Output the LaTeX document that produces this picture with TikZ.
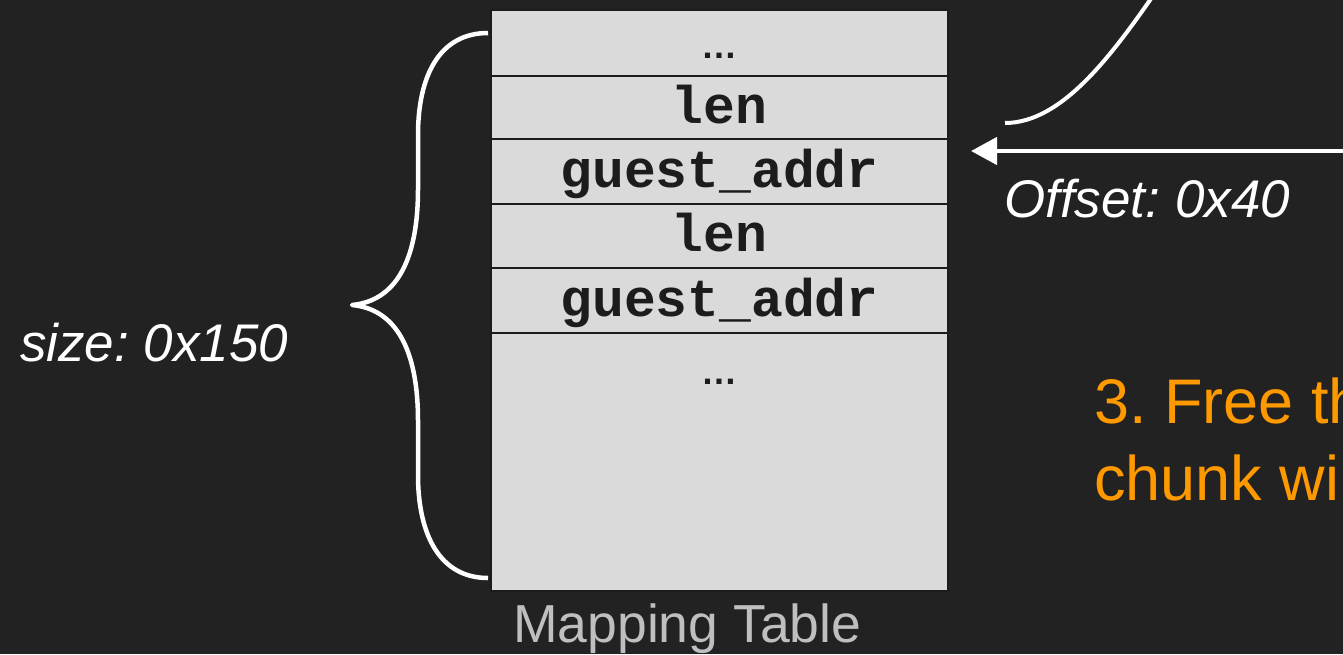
\documentclass[tikz,border=0pt]{standalone}
\usepackage{fontspec}
\setmainfont{Liberation Sans}
\newfontfamily\codefont{Liberation Mono}
\usetikzlibrary{positioning, arrows.meta}
\definecolor{fundo}{RGB}{34,34,34}
\definecolor{cinzacel}{RGB}{218,218,218}
\definecolor{tinta}{RGB}{28,28,28}
\definecolor{cinzarot}{RGB}{191,191,191}
\definecolor{laranja}{RGB}{255,153,0}
\frenchspacing

\begin{document}
\begin{tikzpicture}[
    x=1pt, y=-1pt,
    node distance=0pt,
    celula/.style={rectangle, draw=tinta, line width=2pt, fill=cinzacel,
                   minimum width=457pt, inner sep=0pt, outer sep=0pt, text=tinta,
                   font=\codefont\bfseries\fontsize{53}{60}\selectfont,
                   text height=31pt, text depth=0pt},
    pontos/.style={text=tinta, inner sep=0pt, font=\bfseries\fontsize{36}{40}\selectfont},
    rotulo/.style={text=white, inner sep=0pt, anchor=base west,
                   font=\itshape\fontsize{53}{60}\selectfont},
    passo/.style={text=laranja, inner sep=0pt, anchor=base west,
                  font=\fontsize{63}{76}\selectfont},
    seta/.style={white, line width=4.5pt, -{Triangle[length=26pt, width=27pt]}},
    curva/.style={white, line width=4pt},
    chave/.style={white, line width=4.5pt, line join=round}
]

% Fundo
\fill[fundo] (0,0) rectangle (1343,654);
\useasboundingbox (0,0) rectangle (1343,654);

% Tabela
\node[celula, font=\bfseries\fontsize{36}{40}\selectfont, minimum height=66pt] (linha1) at (719.5,43) {…};
\node[celula, minimum height=63pt, below=of linha1] (linha2) {len};
\node[celula, minimum height=65pt, below=of linha2] (linha3) {guest\_addr};
\node[celula, minimum height=64pt, below=of linha3] (linha4) {len};
\node[celula, minimum height=65pt, below=of linha4] (linha5) {guest\_addr};
\node[celula, minimum height=258pt, below=of linha5] (linha6) {};
\node[pontos, anchor=base] (pontos6) at ([yshift=-51pt]linha6.north) {…};

% Chave
\coordinate (chavetopo) at (488,33);
\coordinate (chaveponta) at (352,305);
\coordinate (chavebase) at (488,578);
\draw[chave] (chavetopo) .. controls (440,33) and (418,75) .. (418,135) -- (418,189)
     .. controls (418,262) and (395,301) .. (chaveponta)
     .. controls (395,309) and (418,348) .. (418,421) -- (418,475)
     .. controls (418,535) and (440,578) .. (chavebase);

% Rotulos
\node[rotulo] (tamanho) at (20,361) {size: 0x150};
\node[rotulo] (desloc) at (1004,217) {Offset: 0x40};
\node[rotulo, text=cinzarot, font=\fontsize{53.5}{60}\selectfont] (titulo) at (513,642) {Mapping Table};
\node[passo] (passoa) at (1094,423) {3. Free th};
\node[passo] (passob) at (1094,500) {chunk wi};

% Setas
\coordinate (curvaini) at (1005,123);
\coordinate (curvafim) at (1157,-10);
\draw[curva] (curvaini) .. controls (1062,123) and (1112,55) .. (curvafim);
\coordinate (setaini) at (1350,151);
\coordinate (setafim) at (971,151);
\draw[seta] (setaini) -- (setafim);

\end{tikzpicture}
\end{document}
